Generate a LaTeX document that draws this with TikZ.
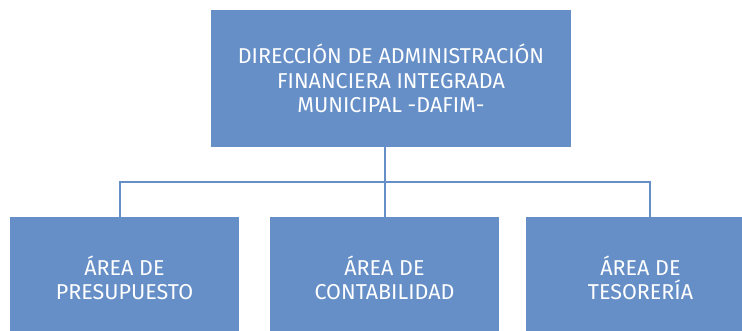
\documentclass[tikz,border=0pt]{standalone}
\usepackage{fontspec}
\setmainfont{Fira Sans}
\definecolor{boxblue}{RGB}{102,143,199}
\tikzset{
  orgbox/.style={draw=none, fill=boxblue, text=white, align=center,
    font=\fontsize{21.5}{24.5}\selectfont, inner sep=0pt},
  conn/.style={draw=boxblue, line width=2.2pt}
}
\begin{document}
\begin{tikzpicture}[x=1pt,y=-1pt]
\clip (0,0) rectangle (742,330);
\useasboundingbox (0,0) rectangle (742,330);
\fill[white] (0,0) rectangle (742,330);
\node[orgbox, minimum width=360, minimum height=137] (top) at (391,78.5)
  {DIRECCIÓN DE ADMINISTRACIÓN\\FINANCIERA INTEGRADA\\MUNICIPAL -DAFIM-};
\node[orgbox, minimum width=229, minimum height=122] (pre) at (124.5,278)
  {ÁREA DE\\PRESUPUESTO};
\node[orgbox, minimum width=229, minimum height=122] (con) at (384.5,278)
  {ÁREA DE\\CONTABILIDAD};
\node[orgbox, minimum width=229, minimum height=122] (tes) at (640.5,278)
  {ÁREA DE\\TESORERÍA};
\coordinate (hub) at (385,182);
\draw[conn] (385,147) -- (hub);
\draw[conn] (120,217) |- (hub) -| (650,217);
\draw[conn] (hub) -- (con.north -| hub);
\end{tikzpicture}
\end{document}
